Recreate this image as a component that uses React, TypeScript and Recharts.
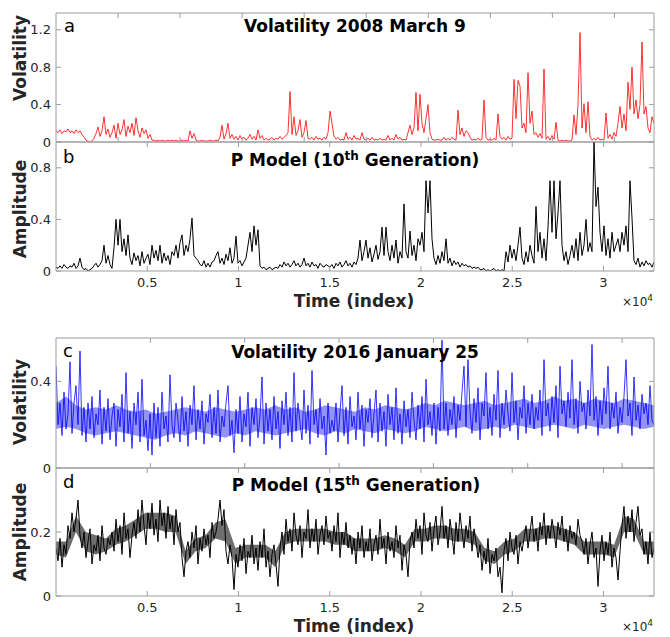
import { ComposedChart, Line, Area, XAxis, YAxis } from 'recharts'

// time axis runs over 2^15 samples
const T_MAX = 32768

// values, one every ~2px of plot width
const volatility2008 = [
  0.12, 0.1, 0.13, 0.09, 0.12, 0.11, 0.14, 0.1, 0.12, 0.09, 0.13, 0.1, 0.12, 0.08,
  0.05, 0.02, 0.01, 0.0, 0.01,
  0.04, 0.09, 0.16, 0.06,
  0.12, 0.27, 0.08, 0.14, 0.05, 0.1, 0.18, 0.04, 0.2, 0.08, 0.13, 0.24, 0.06, 0.17, 0.1, 0.2, 0.07, 0.26, 0.12, 0.05, 0.15, 0.09, 0.13, 0.04, 0.08,
  0.02, 0.02, 0.01, 0.02, 0.01, 0.02, 0.01, 0.01, 0.02, 0.01, 0.02, 0.01, 0.02, 0.01, 0.01, 0.02, 0.01, 0.02, 0.01,
  0.12, 0.04, 0.09,
  0.02, 0.01, 0.01, 0.02, 0.01, 0.01, 0.01, 0.02, 0.01, 0.01, 0.02, 0.01,
  0.05, 0.18, 0.03, 0.09, 0.2, 0.04, 0.08,
  0.03, 0.06, 0.02, 0.07, 0.03, 0.05, 0.02, 0.04, 0.08, 0.03, 0.06, 0.02, 0.13, 0.04, 0.07,
  0.02, 0.04, 0.02, 0.03, 0.05, 0.02, 0.04, 0.03, 0.06, 0.03, 0.05, 0.07,
  0.1, 0.54, 0.08, 0.27, 0.07, 0.12, 0.24, 0.05, 0.1, 0.23, 0.04,
  0.03, 0.05, 0.02, 0.06, 0.03, 0.04, 0.02, 0.05, 0.03,
  0.1, 0.33, 0.2, 0.06, 0.03, 0.05, 0.02,
  0.03, 0.02, 0.1, 0.03,
  0.05, 0.02, 0.07, 0.03, 0.04, 0.02, 0.1,
  0.03, 0.02, 0.04, 0.02, 0.05, 0.02, 0.03, 0.02, 0.04, 0.02, 0.03, 0.02, 0.07, 0.02, 0.04, 0.02, 0.08, 0.03, 0.05, 0.02, 0.03, 0.02,
  0.1, 0.18, 0.08, 0.15, 0.53, 0.12, 0.51, 0.2, 0.1, 0.25, 0.4, 0.1,
  0.03, 0.02, 0.02, 0.03, 0.02, 0.02,
  0.05, 0.02, 0.04, 0.02, 0.05, 0.03, 0.02,
  0.34, 0.08, 0.15, 0.06, 0.12, 0.1, 0.05,
  0.02, 0.03, 0.02, 0.04, 0.02, 0.03,
  0.45, 0.05, 0.02, 0.03, 0.02, 0.04, 0.02,
  0.3, 0.06, 0.03, 0.05, 0.02, 0.06, 0.03, 0.04,
  0.67, 0.25, 0.66, 0.6, 0.15, 0.2, 0.1, 0.74, 0.2, 0.33, 0.08,
  0.1, 0.05, 0.09, 0.04,
  0.78, 0.03, 0.06, 0.02, 0.07, 0.03, 0.21,
  0.02, 0.01, 0.02, 0.01, 0.02, 0.01, 0.01, 0.02,
  0.29, 0.08, 0.4, 1.17, 0.15, 0.41, 0.1, 0.43, 0.06,
  0.02, 0.04, 0.02, 0.05, 0.02, 0.03, 0.02,
  0.31, 0.04, 0.08, 0.03, 0.1, 0.06,
  0.2, 0.38, 0.15, 0.3, 0.12,
  0.64, 0.35, 0.8, 0.3, 0.45, 0.25, 0.4, 1.07, 0.3, 0.38, 0.15, 0.1, 0.27, 0.2,
]

const pModel10 = [
  0.03, 0.02, 0.04, 0.02, 0.05, 0.03, 0.02, 0.04, 0.03, 0.06, 0.02, 0.04,
  0.1, 0.03, 0.01, 0.02, 0.0, 0.01, 0.02,
  0.04, 0.06, 0.03, 0.05, 0.08,
  0.2, 0.06, 0.12, 0.05, 0.02,
  0.18, 0.4, 0.2, 0.4, 0.15, 0.25, 0.12, 0.28, 0.1,
  0.05, 0.14, 0.08, 0.12, 0.04, 0.15, 0.06, 0.1, 0.13, 0.05,
  0.2, 0.1, 0.16, 0.08, 0.2,
  0.06, 0.14, 0.08, 0.12, 0.05, 0.15,
  0.12, 0.2, 0.1, 0.22, 0.28, 0.12, 0.2, 0.15, 0.25, 0.41, 0.12,
  0.1, 0.08, 0.05,
  0.04, 0.08, 0.03, 0.06, 0.03, 0.07,
  0.08, 0.12, 0.15, 0.06, 0.1, 0.05, 0.13, 0.08, 0.18, 0.06, 0.1, 0.27,
  0.06, 0.08, 0.04, 0.07, 0.1,
  0.2, 0.3, 0.15, 0.35, 0.2, 0.32,
  0.04, 0.02, 0.03, 0.01, 0.02, 0.03, 0.01, 0.02, 0.03, 0.02,
  0.05, 0.03, 0.07, 0.04, 0.06, 0.03, 0.05, 0.08, 0.04, 0.06, 0.03, 0.05,
  0.1,
  0.04, 0.06, 0.03, 0.07, 0.04, 0.05, 0.02, 0.06, 0.04, 0.03, 0.05, 0.04,
  0.03, 0.05, 0.02, 0.06, 0.04, 0.07, 0.03, 0.05, 0.08, 0.04, 0.06, 0.03, 0.07, 0.05,
  0.1, 0.24, 0.08, 0.15, 0.24, 0.1, 0.18, 0.07, 0.13, 0.2, 0.09, 0.15,
  0.34, 0.12, 0.34, 0.15,
  0.08, 0.2, 0.1, 0.24, 0.06, 0.15, 0.1,
  0.52,
  0.15, 0.1, 0.31, 0.12, 0.2, 0.08, 0.25,
  0.2, 0.3, 0.15,
  0.7, 0.45, 0.7, 0.25,
  0.1, 0.05, 0.12, 0.06, 0.15, 0.08, 0.25,
  0.06, 0.1, 0.04, 0.08, 0.05, 0.07, 0.03, 0.06, 0.04, 0.05, 0.03, 0.04, 0.02, 0.03, 0.02, 0.03, 0.01,
  0.01, 0.02, 0.0, 0.01, 0.0, 0.01, 0.02, 0.0, 0.01, 0.0, 0.01, 0.0,
  0.15, 0.07, 0.2, 0.1, 0.17, 0.08, 0.2, 0.34,
  0.1, 0.05, 0.15, 0.07, 0.2, 0.12, 0.06,
  0.5,
  0.15, 0.3, 0.1, 0.25, 0.08, 0.34,
  0.7, 0.3, 0.7, 0.25, 0.45, 0.7, 0.2,
  0.08, 0.15, 0.05, 0.12, 0.2,
  0.1, 0.25, 0.08, 0.3, 0.12, 0.2, 0.4, 0.15, 0.22,
  0.15, 1.0, 0.5, 0.65, 0.3,
  0.15, 0.35, 0.12, 0.25, 0.1, 0.3, 0.15, 0.2,
  0.25, 0.15, 0.3, 0.2, 0.35, 0.15, 0.7,
  0.41,
  0.08, 0.05, 0.1, 0.03, 0.07, 0.04, 0.08, 0.05, 0.06, 0.03, 0.07,
]

const volatility2016 = [
  0.47, 0.2, 0.3, 0.15, 0.35, 0.18, 0.25, 0.49, 0.16, 0.3, 0.38, 0.2, 0.54,
  0.15, 0.28, 0.12, 0.3, 0.18, 0.33, 0.14, 0.25, 0.2, 0.36, 0.11, 0.28, 0.17, 0.32, 0.13, 0.24, 0.3, 0.1, 0.27, 0.19,
  0.34, 0.12, 0.44, 0.16, 0.26, 0.09, 0.3, 0.2, 0.35, 0.12, 0.41, 0.15, 0.22,
  0.08, 0.25, 0.06, 0.3, 0.14, 0.28, 0.1, 0.35, 0.18, 0.24, 0.12, 0.43, 0.2,
  0.14, 0.3, 0.22, 0.12, 0.33, 0.17, 0.26, 0.1, 0.29, 0.2, 0.38, 0.13, 0.27, 0.18, 0.31, 0.11, 0.25, 0.21, 0.34, 0.14,
  0.28, 0.16, 0.36, 0.12, 0.24, 0.19, 0.3, 0.38, 0.15, 0.22,
  0.07, 0.27, 0.16, 0.33, 0.12, 0.25, 0.19, 0.35, 0.1, 0.28, 0.2, 0.32, 0.14, 0.24, 0.42, 0.11, 0.3, 0.17, 0.27, 0.13,
  0.33, 0.18, 0.26, 0.09, 0.31, 0.2, 0.35, 0.15, 0.28, 0.12, 0.44, 0.17, 0.3, 0.21, 0.13, 0.36, 0.16, 0.29, 0.11, 0.45,
  0.2, 0.27, 0.14, 0.32, 0.18, 0.24, 0.06, 0.3, 0.16, 0.22,
  0.17, 0.3, 0.12, 0.26, 0.38, 0.15, 0.28, 0.11, 0.33, 0.19, 0.24, 0.13, 0.35, 0.18, 0.29, 0.1, 0.27, 0.21, 0.32, 0.14,
  0.25, 0.36, 0.12, 0.3, 0.17, 0.26, 0.1, 0.34, 0.2, 0.28, 0.13, 0.37, 0.16, 0.25, 0.11, 0.31, 0.19, 0.27, 0.14, 0.35,
  0.22, 0.13, 0.29, 0.18, 0.33, 0.12, 0.41, 0.2, 0.26, 0.15, 0.3, 0.11, 0.28, 0.17, 0.59,
  0.18, 0.3, 0.15, 0.27, 0.2, 0.33, 0.14, 0.29, 0.22, 0.35, 0.47, 0.19, 0.5, 0.26, 0.16, 0.32, 0.21, 0.37, 0.13, 0.3,
  0.24, 0.44, 0.18, 0.28, 0.15, 0.34, 0.22, 0.45, 0.14, 0.3, 0.2, 0.36, 0.25, 0.17, 0.44, 0.21, 0.31, 0.13, 0.28, 0.23,
  0.38, 0.16, 0.3, 0.2,
  0.34, 0.18, 0.28, 0.22, 0.36, 0.15, 0.5, 0.24, 0.3, 0.17, 0.33, 0.21, 0.38, 0.14, 0.47, 0.25, 0.31, 0.19, 0.35, 0.23,
  0.5, 0.2, 0.32, 0.16, 0.4, 0.26, 0.3, 0.18, 0.36, 0.24, 0.57, 0.22, 0.33, 0.15, 0.31, 0.2, 0.37, 0.25, 0.47, 0.18,
  0.3, 0.23, 0.35, 0.16, 0.28, 0.21, 0.33, 0.5, 0.24, 0.3, 0.15, 0.42, 0.22, 0.29, 0.18, 0.34, 0.25, 0.3, 0.2, 0.38,
  0.22, 0.2,
]

const pModel15 = [
  0.15, 0.11, 0.18, 0.09, 0.16, 0.13,
  0.22, 0.18, 0.26, 0.2, 0.24, 0.3, 0.19,
  0.15, 0.2, 0.12, 0.17, 0.21, 0.1, 0.16, 0.14, 0.19, 0.11, 0.22, 0.15, 0.13, 0.18, 0.16,
  0.2, 0.14, 0.24, 0.17, 0.22, 0.13, 0.26, 0.18, 0.21, 0.12, 0.19,
  0.23, 0.18, 0.27, 0.2, 0.3, 0.22, 0.16, 0.26, 0.21, 0.29, 0.19, 0.24, 0.17, 0.3, 0.22, 0.26, 0.18, 0.28, 0.21, 0.25, 0.16, 0.27, 0.2, 0.23,
  0.12, 0.06, 0.14,
  0.17, 0.12, 0.2, 0.15, 0.22, 0.1, 0.18, 0.14, 0.21, 0.16, 0.19, 0.12, 0.23, 0.18, 0.2,
  0.24, 0.3, 0.22, 0.27,
  0.14, 0.1, 0.16, 0.12,
  0.02, 0.13, 0.09, 0.16, 0.11, 0.18, 0.07, 0.14, 0.12, 0.19, 0.1, 0.15, 0.08, 0.17, 0.12, 0.21, 0.09, 0.14, 0.06, 0.13, 0.16, 0.1, 0.03,
  0.15, 0.2, 0.13, 0.24, 0.17, 0.21, 0.14, 0.26, 0.19, 0.16, 0.22, 0.12, 0.2, 0.18, 0.27, 0.15, 0.21, 0.17, 0.24, 0.13, 0.19, 0.22, 0.16, 0.25, 0.18, 0.2,
  0.14, 0.22, 0.17, 0.26, 0.12, 0.2, 0.16, 0.23, 0.15, 0.19,
  0.13, 0.18, 0.1, 0.2, 0.15, 0.22, 0.12, 0.17, 0.14, 0.21, 0.11, 0.16, 0.19, 0.13, 0.24, 0.15, 0.18, 0.1, 0.2, 0.14, 0.17, 0.12, 0.22, 0.15, 0.19, 0.08, 0.16, 0.13, 0.06, 0.17,
  0.2, 0.15, 0.24, 0.18, 0.22, 0.13, 0.26, 0.19, 0.17, 0.23, 0.14, 0.21, 0.25, 0.16, 0.2, 0.28, 0.18, 0.22, 0.15, 0.24, 0.19, 0.13, 0.23, 0.17, 0.26, 0.2, 0.15, 0.22, 0.18, 0.25, 0.14, 0.21, 0.17,
  0.12, 0.16, 0.08, 0.14, 0.1, 0.18, 0.07, 0.13, 0.11, 0.15, 0.06, 0.09, 0.01,
  0.14, 0.18, 0.11, 0.2, 0.15, 0.13, 0.19, 0.1, 0.17, 0.14,
  0.18, 0.22, 0.15, 0.2, 0.25, 0.17, 0.21, 0.14, 0.23, 0.19, 0.26, 0.16, 0.22, 0.18, 0.24, 0.2, 0.15, 0.23, 0.19, 0.25, 0.17, 0.21, 0.14, 0.22, 0.18, 0.2, 0.16, 0.24, 0.19, 0.17,
  0.13, 0.18, 0.1, 0.16, 0.2, 0.12, 0.15, 0.03, 0.14, 0.19, 0.11, 0.17, 0.13, 0.2, 0.09, 0.15, 0.12, 0.05, 0.14,
  0.22, 0.28, 0.18, 0.25, 0.2, 0.27, 0.17, 0.23, 0.28, 0.19, 0.21,
  0.13, 0.17, 0.1, 0.2, 0.12, 0.15,
]

// solid core where the fast-wiggling traces fill in, read every ~10px
const vol2016Low = [
  0.18, 0.19, 0.18, 0.16, 0.15, 0.16, 0.17, 0.16, 0.15, 0.14, 0.13, 0.15, 0.16, 0.15, 0.17, 0.16, 0.15, 0.14, 0.16, 0.15,
  0.17, 0.16, 0.15, 0.16, 0.17, 0.18, 0.16, 0.15, 0.17, 0.16, 0.18, 0.17, 0.16, 0.18, 0.17, 0.16, 0.17, 0.19, 0.18, 0.17,
  0.18, 0.19, 0.17, 0.18, 0.19, 0.18, 0.2, 0.19, 0.18, 0.19, 0.2, 0.19, 0.18, 0.2, 0.19, 0.18, 0.19, 0.2, 0.19, 0.18, 0.19,
]
const vol2016High = [
  0.3, 0.33, 0.29, 0.27, 0.28, 0.27, 0.29, 0.27, 0.26, 0.27, 0.25, 0.26, 0.27, 0.28, 0.27, 0.26, 0.28, 0.27, 0.26, 0.27,
  0.28, 0.27, 0.29, 0.27, 0.28, 0.26, 0.27, 0.29, 0.28, 0.27, 0.26, 0.28, 0.27, 0.29, 0.28, 0.27, 0.28, 0.3, 0.29, 0.31,
  0.3, 0.29, 0.3, 0.31, 0.29, 0.3, 0.31, 0.32, 0.3, 0.31, 0.33, 0.31, 0.32, 0.3, 0.32, 0.31, 0.3, 0.32, 0.31, 0.3, 0.29,
]
const p15Low = [
  0.13, 0.12, 0.2, 0.14, 0.13, 0.14, 0.16, 0.17, 0.19, 0.21, 0.21, 0.2, 0.2, 0.1, 0.14, 0.15, 0.18, 0.17, 0.1, 0.12,
  0.12, 0.12, 0.09, 0.16, 0.17, 0.17, 0.17, 0.17, 0.16, 0.16, 0.14, 0.14, 0.14, 0.15, 0.14, 0.12, 0.17, 0.17, 0.18, 0.18,
  0.17, 0.17, 0.16, 0.11, 0.1, 0.13, 0.14, 0.17, 0.17, 0.18, 0.18, 0.17, 0.16, 0.13, 0.13, 0.13, 0.12, 0.2, 0.2, 0.13, 0.13,
]
const p15High = [
  0.17, 0.17, 0.25, 0.2, 0.19, 0.18, 0.21, 0.22, 0.24, 0.26, 0.26, 0.26, 0.25, 0.14, 0.18, 0.19, 0.23, 0.24, 0.15, 0.16,
  0.16, 0.16, 0.14, 0.2, 0.21, 0.21, 0.21, 0.21, 0.2, 0.2, 0.18, 0.18, 0.18, 0.19, 0.18, 0.16, 0.21, 0.21, 0.22, 0.22,
  0.21, 0.21, 0.2, 0.15, 0.14, 0.17, 0.18, 0.21, 0.21, 0.22, 0.22, 0.21, 0.2, 0.17, 0.17, 0.17, 0.16, 0.25, 0.24, 0.17, 0.17,
]

const timeTicks = [5000, 10000, 15000, 20000, 25000, 30000]
const ticks2008 = [3400, 6800, 10200, 13600, 17000, 20400, 23800, 27200, 30600]
const ticks2016 = [5170, 10340, 15510, 20680, 25850, 31020]

const AXIS = '#9c9c9c'
const INK = '#262626'
const FONT = '"DejaVu Sans", sans-serif'

const toRows = (vals: number[]) =>
  vals.map((v, i) => ({ t: (i * T_MAX) / (vals.length - 1), v }))

const toBand = (lo: number[], hi: number[]) =>
  lo.map((l, i) => ({ t: (i * T_MAX) / (lo.length - 1), band: [l, hi[i]] }))

const blank = () => ''

interface PanelProps {
  top: number
  height: number
  values: number[]
  color: string
  yMax: number
  yTicks: number[]
  xTicks: number[]
  labelled?: boolean
  width?: number
  low?: number[]
  high?: number[]
  bandFill?: string
}

function Panel({ top, height, values, color, yMax, yTicks, xTicks, labelled, width = 0.9, low, high, bandFill }: PanelProps) {
  const tickStyle = { fontSize: 13, fill: INK, fontFamily: FONT }
  const xProps = {
    dataKey: 't',
    type: 'number' as const,
    domain: [0, T_MAX],
    allowDataOverflow: true,
    ticks: xTicks,
    interval: 0 as const,
  }
  const yProps = {
    type: 'number' as const,
    domain: [0, yMax],
    allowDataOverflow: true,
    ticks: yTicks,
    interval: 0 as const,
  }
  return (
    <div style={{ position: 'absolute', left: 0, top: top - 10 }}>
      <ComposedChart
        width={670}
        height={height + 10 + (labelled ? 24 : 10)}
        margin={{ top: 10, right: 16, bottom: labelled ? 0 : 10, left: 0 }}
      >
        {labelled && (
          <XAxis
            xAxisId="lbl"
            {...xProps}
            height={24}
            axisLine={false}
            tickLine={false}
            tickSize={5}
            tickMargin={2}
            tick={tickStyle}
            tickFormatter={(v: number) => String(v / 1e4)}
          />
        )}
        <XAxis xAxisId="bot" {...xProps} orientation="bottom" mirror stroke={AXIS} tickSize={5} tickFormatter={blank} />
        <XAxis xAxisId="top" {...xProps} orientation="top" mirror stroke={AXIS} tickSize={5} tickFormatter={blank} />
        <YAxis
          yAxisId="lbl"
          {...yProps}
          width={56}
          axisLine={false}
          tickLine={false}
          tickSize={3}
          tickMargin={2}
          tick={tickStyle}
        />
        <YAxis yAxisId="lft" {...yProps} mirror stroke={AXIS} tickSize={5} tickFormatter={blank} />
        <YAxis yAxisId="rgt" {...yProps} orientation="right" mirror stroke={AXIS} tickSize={5} tickFormatter={blank} />
        {low && high && (
          <Area
            xAxisId="bot"
            yAxisId="lft"
            data={toBand(low, high)}
            dataKey="band"
            type="linear"
            stroke="none"
            fill={bandFill}
            fillOpacity={1}
            isAnimationActive={false}
          />
        )}
        <Line
          xAxisId="bot"
          yAxisId="lft"
          data={toRows(values)}
          dataKey="v"
          type="linear"
          stroke={color}
          strokeWidth={width}
          dot={false}
          isAnimationActive={false}
        />
      </ComposedChart>
    </div>
  )
}

export default function App() {
  const title = { fontSize: 17, fontWeight: 'bold' as const, fill: '#000', textAnchor: 'middle' as const }
  const letter = { fontSize: 18, fill: '#000' }
  const yLabel = (y: number, text: string) => (
    <text x={26} y={y} transform={`rotate(-90, 26, ${y})`} {...title} fill={INK}>
      {text}
    </text>
  )
  const xLabel = (y: number) => (
    <g>
      <text x={354} y={y} {...title} fill={INK}>Time (index)</text>
      <text x={622} y={y - 1} fontSize={12} fill={INK}>
        ×10<tspan dy={-5} fontSize={9}>4</tspan>
      </text>
    </g>
  )

  return (
    <div style={{ position: 'absolute', left: 0, top: 0, width: 670, height: 637, background: '#fff' }}>
      <Panel top={13} height={129} values={volatility2008} color="#ff0000" yMax={1.38} yTicks={[0, 0.4, 0.8, 1.2]} xTicks={ticks2008} width={0.8} />
      <Panel top={142} height={129} values={pModel10} color="#000000" yMax={1} yTicks={[0, 0.4, 0.8]} xTicks={timeTicks} labelled width={1} />
      <Panel
        top={338}
        height={130}
        values={volatility2016}
        color="#0000ff"
        yMax={0.6}
        yTicks={[0, 0.4]}
        xTicks={ticks2016}
        width={0.8}
        low={vol2016Low}
        high={vol2016High}
        bandFill="#9393f6"
      />
      <Panel
        top={468}
        height={128}
        values={pModel15}
        color="#000000"
        yMax={0.4}
        yTicks={[0, 0.2]}
        xTicks={timeTicks}
        labelled
        width={1}
        low={p15Low}
        high={p15High}
        bandFill="#6e6e6e"
      />

      <svg width={670} height={637} style={{ position: 'absolute', left: 0, top: 0, pointerEvents: 'none' }} fontFamily={FONT}>
        <text x={355} y={32} {...title}>Volatility 2008 March 9</text>
        <text x={355} y={166} {...title}>
          P Model (10<tspan dy={-6} fontSize={12}>th</tspan>
          <tspan dy={6}> Generation)</tspan>
        </text>
        <text x={355} y={358} {...title}>Volatility 2016 January 25</text>
        <text x={356} y={491} {...title}>
          P Model (15<tspan dy={-6} fontSize={12}>th</tspan>
          <tspan dy={6}> Generation)</tspan>
        </text>

        <text x={64} y={32} {...letter}>a</text>
        <text x={63} y={163} {...letter}>b</text>
        <text x={63} y={357} {...letter}>c</text>
        <text x={63} y={488} {...letter}>d</text>

        {yLabel(58, 'Volatility')}
        {yLabel(209, 'Amplitude')}
        {yLabel(402, 'Volatility')}
        {yLabel(532, 'Amplitude')}

        {xLabel(307)}
        {xLabel(632)}
      </svg>
    </div>
  )
}
